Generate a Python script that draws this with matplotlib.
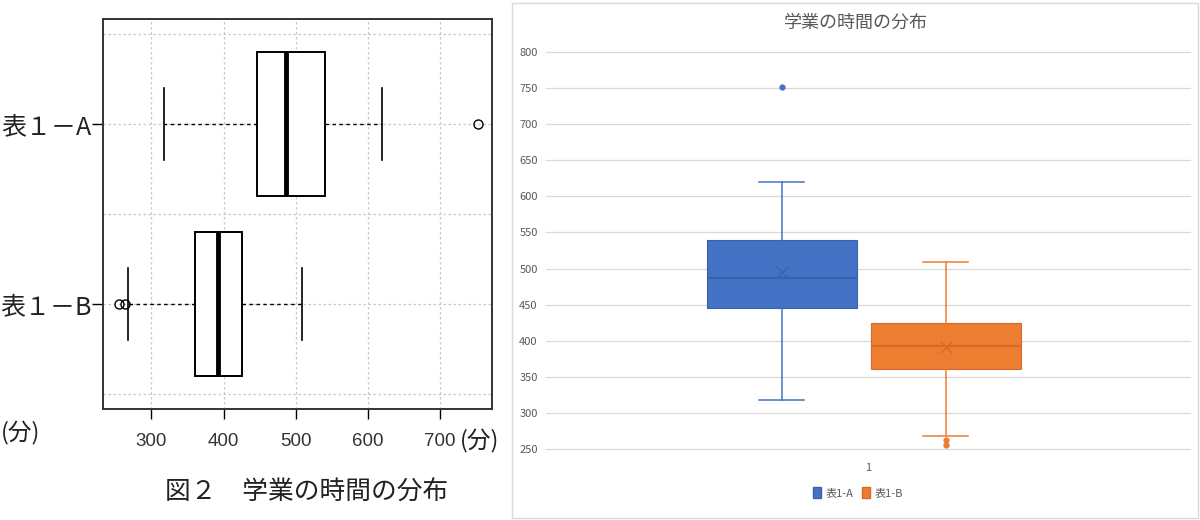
import numpy as np
import matplotlib.pyplot as plt
from matplotlib.patches import Patch, Rectangle

plt.rcParams['font.family'] = ['Noto Sans CJK JP', 'DejaVu Sans']

# 値
groups_r = ["表１－A", "表１－B"]
groups_excel = ["表1-A", "表1-B"]
q1 = [446, 361]
median = [487, 393]
q3 = [540, 425]
whis_lo = [318, 268]
whis_hi = [620, 509]
means = [495, 391]
outliers = [[752], [255, 263]]

x_ticks_r = [300, 400, 500, 600, 700]
y_ticks_excel = [250, 300, 350, 400, 450, 500, 550, 600, 650, 700, 750, 800]

colors = ["#4472C4", "#ED7D31"]
dark = ["#3A62AC", "#D8692A"]


def build_stats(labels):
    stats = []
    for i in range(len(labels)):
        stats.append(dict(label=labels[i], q1=q1[i], med=median[i], q3=q3[i],
                          whislo=whis_lo[i], whishi=whis_hi[i],
                          mean=means[i], fliers=np.array(outliers[i])))
    return stats


W, H = 1200, 520
fig = plt.figure(figsize=(W / 100, H / 100), dpi=100)

# ---- 左: R風の横向き箱ひげ図 ----
ax1 = fig.add_axes([103 / W, 1 - 409 / H, (492 - 103) / W, (409 - 19) / H])
ax1.set_xlim(233, 772)
ax1.set_ylim(0.417, 2.583)
for xv in x_ticks_r:
    ax1.axvline(xv, color="#C8C8C8", lw=0.9, ls=(0, (2, 2)), zorder=0)
for yv in [0.5, 1, 1.5, 2, 2.5]:
    ax1.axhline(yv, color="#C8C8C8", lw=0.9, ls=(0, (2, 2)), zorder=0)

ax1.bxp(build_stats(groups_r), positions=[2, 1], widths=0.8, capwidths=0.4,
        orientation="horizontal", showmeans=False, patch_artist=True,
        boxprops=dict(facecolor="white", edgecolor="black", lw=1.4),
        medianprops=dict(color="black", lw=3.5, solid_capstyle="butt"),
        whiskerprops=dict(color="black", lw=1.0, ls=(0, (2.5, 2.5))),
        capprops=dict(color="black", lw=1.2),
        flierprops=dict(marker="o", markerfacecolor="none", markeredgecolor="black",
                        markersize=6.5, markeredgewidth=1.0))
ax1.set_yticks([2, 1])
ax1.set_yticklabels(groups_r, fontsize=18, color="#222222")
ax1.set_xticks(x_ticks_r)
ax1.set_xticklabels([str(v) for v in x_ticks_r], fontsize=13.5,
                    family="Liberation Sans", color="#333333")
ax1.tick_params(axis="y", length=8, width=1, pad=0)
ax1.tick_params(axis="x", length=7, width=1, pad=10)
for s in ax1.spines.values():
    s.set_linewidth(1.4)
    s.set_color("#333333")

fig.text(1 / W, 1 - 433 / H, "(分)", fontsize=17, ha="left", va="center",
         color="#222222")
fig.text(460 / W, 1 - 441 / H, "(分)", fontsize=17, ha="left", va="center",
         color="#222222")
fig.text(307 / W, 1 - 493 / H, "図２　学業の時間の分布", fontsize=18.5,
         ha="center", va="center", color="#222222")

# ---- 右: Excel風の縦向き箱ひげ図 ----
fig.patches.append(Rectangle((512 / W, 2 / H), (1198 - 512) / W, (517 - 2) / H,
                             transform=fig.transFigure, fill=False,
                             edgecolor="#D9D9D9", lw=1.0))
ax2 = fig.add_axes([546 / W, 1 - 449 / H, (1190 - 546) / W, (449 - 52) / H])
ax2.set_xlim(0, 1)
ax2.set_ylim(250, 800)
for yv in y_ticks_excel:
    ax2.axhline(yv, color="#D9D9D9", lw=0.9, zorder=0, clip_on=False)

stats = build_stats(groups_excel)
for i in range(2):
    ax2.bxp([stats[i]], positions=[[0.366, 0.621][i]], widths=0.233, capwidths=0.07,
            showmeans=True, patch_artist=True,
            boxprops=dict(facecolor=colors[i], edgecolor=dark[i], lw=0.8),
            medianprops=dict(color=dark[i], lw=1.6),
            whiskerprops=dict(color=colors[i], lw=1.1),
            capprops=dict(color=colors[i], lw=1.1),
            meanprops=dict(marker="x", markeredgecolor=dark[i], markersize=8,
                           markeredgewidth=0.9),
            flierprops=dict(marker="o", markerfacecolor=colors[i],
                            markeredgecolor=colors[i], markersize=3.5))

ax2.set_yticks(y_ticks_excel)
ax2.set_yticklabels([str(v) for v in y_ticks_excel], fontsize=8, color="#595959")
ax2.set_xticks([0.5])
ax2.set_xticklabels(["1"], fontsize=8, color="#595959")
ax2.tick_params(axis="both", length=0)
ax2.tick_params(axis="y", pad=6)
ax2.tick_params(axis="x", pad=10)
for s in ax2.spines.values():
    s.set_visible(False)
fig.text(856 / W, 1 - 23 / H, "学業の時間の分布", fontsize=13, color="#595959",
         ha="center", va="center")

handles = [Patch(facecolor=colors[i], edgecolor=dark[i]) for i in range(2)]
fig.legend(handles, groups_excel, loc="center", bbox_to_anchor=(858 / W, 1 - 493 / H),
           ncol=2, frameon=False, fontsize=8, labelcolor="#595959",
           handlelength=0.7, handleheight=1.1, handletextpad=0.4, columnspacing=0.8)

fig.savefig("out.png", dpi=100)
